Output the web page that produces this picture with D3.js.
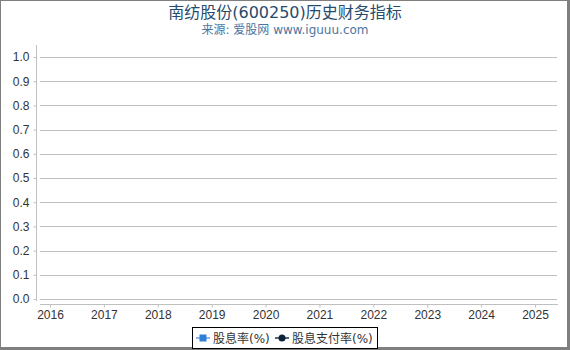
<!DOCTYPE html>
<html>
<head>
<meta charset="utf-8">
<script src="https://cdn.jsdelivr.net/npm/d3@7"></script>
<style>
body{margin:0;background:#fff;}
svg{display:block;font-family:"DejaVu Sans","Noto Sans CJK SC",sans-serif;}
</style>
</head>
<body>
<div id="chart"></div>
<script>
// years on the x axis, both series have no values in the source
let years = [2016,2017,2018,2019,2020,2021,2022,2023,2024,2025];
let yTicks = [0,0.1,0.2,0.3,0.4,0.5,0.6,0.7,0.8,0.9,1.0];
let dividendYield = [null,null,null,null,null,null,null,null,null,null];
let payoutRatio = [null,null,null,null,null,null,null,null,null,null];
let seriesNames = ["股息率(%)","股息支付率(%)"];
let seriesColors = ["#2f7ed8","#0d233a"];

let W = 570, H = 350;
let svg = d3.select("#chart").append("svg").attr("width",W).attr("height",H);

// frame
svg.append("rect").attr("x",0.5).attr("y",0.5).attr("width",W-3).attr("height",H-3)
	.attr("fill","#fff").attr("stroke","#7f7f7f").attr("stroke-width",1);
svg.append("rect").attr("x",W-3).attr("y",0).attr("width",3).attr("height",H).attr("fill","#7f7f7f");
svg.append("rect").attr("x",0).attr("y",H-3).attr("width",W).attr("height",3).attr("fill","#7f7f7f");

// titles
svg.append("text").attr("x",285).attr("y",18).attr("text-anchor","middle")
	.attr("fill","#274b6d").style("font-size","16px").text("南纺股份(600250)历史财务指标");
svg.append("text").attr("x",285).attr("y",34).attr("text-anchor","middle")
	.attr("fill","#4d759e").style("font-size","12px").text("来源: 爱股网 www.iguuu.com");

let x = d3.scaleLinear().domain([2016,2025]).range([50,535]);
let y = d3.scaleLinear().domain([0,1]).range([299,57]);

// gridlines
svg.append("g").selectAll("line").data(yTicks).enter().append("line")
	.attr("x1",40).attr("x2",557)
	.attr("y1",d=>Math.round(y(d))+0.5).attr("y2",d=>Math.round(y(d))+0.5)
	.attr("stroke","#c0c0c0").attr("stroke-width",1);

// y axis
let yAxis = d3.axisLeft(y).tickValues(yTicks).tickFormat(d3.format(".1f")).tickSize(3).tickPadding(4);
let gy = svg.append("g").attr("transform","translate(36.5,0)").call(yAxis);
gy.select(".domain").remove();
gy.selectAll(".tick line").attr("stroke","#c0c0c0");
gy.selectAll("text").attr("fill","#333").style("font-size","12px");
svg.append("line").attr("x1",36.5).attr("x2",36.5).attr("y1",45).attr("y2",301)
	.attr("stroke","#c0c0c0");

// x axis
let xAxis = d3.axisBottom(x).tickValues(years).tickFormat(d3.format("d")).tickSize(3).tickPadding(3);
let gx = svg.append("g").attr("transform","translate(0,304.5)").call(xAxis);
gx.select(".domain").remove();
gx.selectAll(".tick line").attr("stroke","#c0c0c0");
gx.selectAll("text").attr("fill","#333").style("font-size","12px");
svg.append("line").attr("x1",40).attr("x2",558).attr("y1",304.5).attr("y2",304.5)
	.attr("stroke","#c0c0c0");

// series lines (no data points available)
let line = d3.line().defined(d=>d!=null).x((d,i)=>x(years[i])).y(d=>y(d));
[dividendYield,payoutRatio].forEach(function(s,k){
	svg.append("path").datum(s).attr("fill","none").attr("stroke",seriesColors[k])
		.attr("stroke-width",2).attr("d",line);
});

// legend
let lg = svg.append("g");
lg.append("rect").attr("x",192.5).attr("y",327.5).attr("width",185).attr("height",21)
	.attr("fill","#fff").attr("stroke","#000").attr("stroke-width",1);
let itemX = [196,275];
seriesNames.forEach(function(n,k){
	let g = lg.append("g").attr("transform","translate("+itemX[k]+",338)");
	g.append("line").attr("x1",0).attr("x2",14).attr("y1",0).attr("y2",0)
		.attr("stroke",k==0?"#8fb8e8":"#5a6675").attr("stroke-width",2);
	if(k==0){
		g.append("rect").attr("x",3.5).attr("y",-3.5).attr("width",7).attr("height",7).attr("fill",seriesColors[k]);
	}else{
		g.append("circle").attr("cx",7).attr("cy",0).attr("r",3.5).attr("fill",seriesColors[k]);
	}
	g.append("text").attr("x",17).attr("y",4.5).attr("fill","#333").style("font-size","12px").text(n);
});
</script>
</body>
</html>
